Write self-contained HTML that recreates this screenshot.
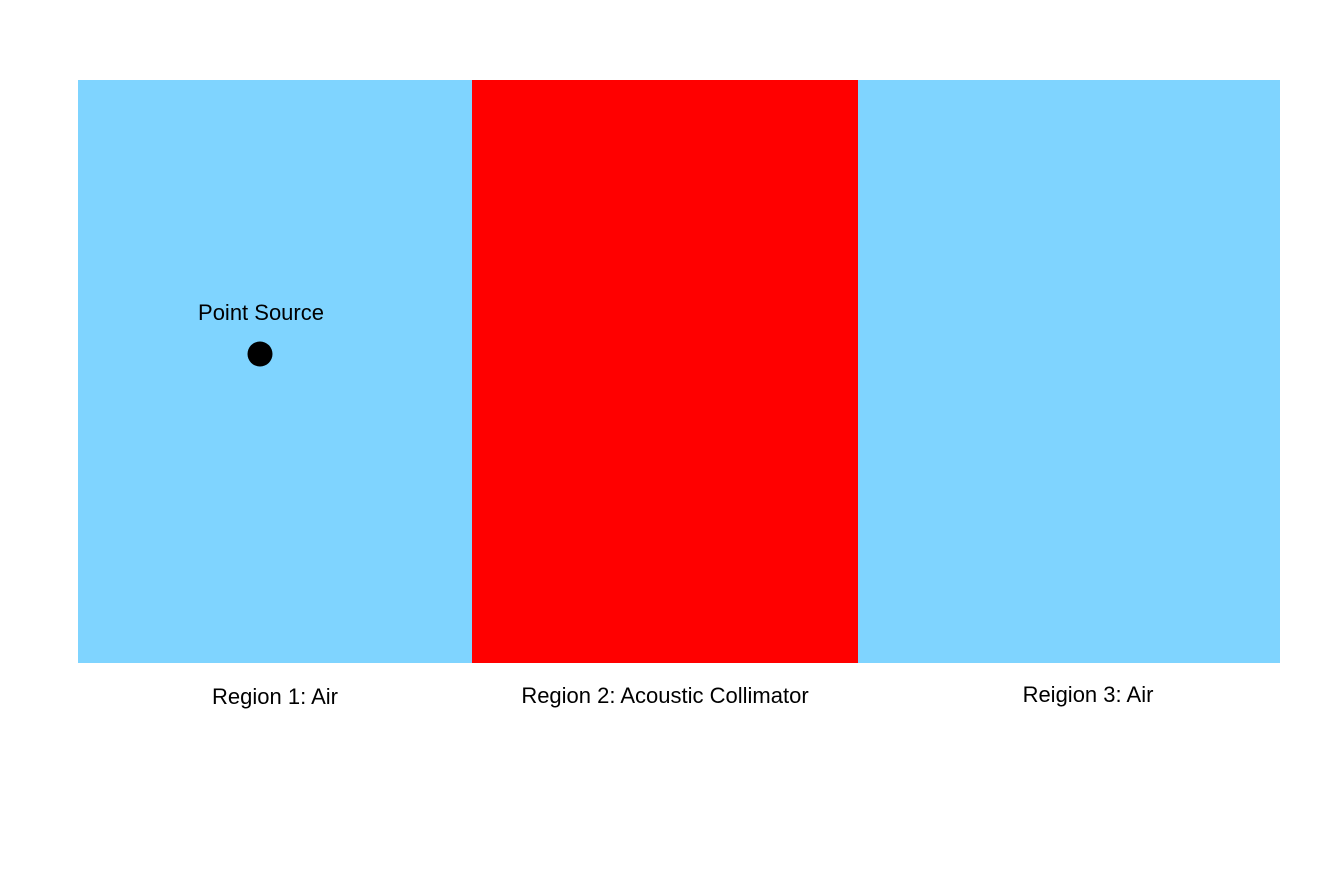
<!DOCTYPE html>
<html>
<head>
<meta charset="utf-8">
<style>
  html, body { margin: 0; padding: 0; background: #fff; }
  body { width: 1336px; height: 880px; position: relative; overflow: hidden; font-family: "Liberation Sans", "DejaVu Sans", sans-serif; }
  svg { position: absolute; left: 0; top: 0; }
  text { font-family: "Liberation Sans", "DejaVu Sans", sans-serif; font-size: 22px; fill: #000; }
</style>
</head>
<body>
<svg id="chart" width="1336" height="880"></svg>
<script>
const regionNames = ["region-1-air", "region-2-acoustic-collimator", "region-3-air"];
const regionBounds = [78, 472, 858, 1280];
const regionColors = ["#7fd4ff", "#ff0000", "#7fd4ff"];
const regionLabels = ["Region 1: Air", "Region 2: Acoustic Collimator", "Reigion 3: Air"];
const labelY = [704, 703, 702];
const sourcePoint = [260, 354];

const NS = "http://www.w3.org/2000/svg";
const svgEl = document.getElementById("chart");
const plotTop = 80, plotBottom = 663;

for (let i = 0; i < regionNames.length; i++) {
  const r = document.createElementNS(NS, "rect");
  r.setAttribute("x", regionBounds[i]);
  r.setAttribute("y", plotTop);
  r.setAttribute("width", regionBounds[i + 1] - regionBounds[i]);
  r.setAttribute("height", plotBottom - plotTop);
  r.setAttribute("fill", regionColors[i]);
  
  
  svgEl.appendChild(r);

  const t = document.createElementNS(NS, "text");
  const cx = i === 0 ? 275 : (i === 2 ? 1088 : (regionBounds[i] + regionBounds[i + 1]) / 2);
  t.setAttribute("x", cx);
  t.setAttribute("y", labelY[i]);
  t.setAttribute("text-anchor", "middle");
  t.textContent = regionLabels[i];
  
  
  svgEl.appendChild(t);
}

const c = document.createElementNS(NS, "circle");
c.setAttribute("cx", sourcePoint[0]);
c.setAttribute("cy", sourcePoint[1]);
c.setAttribute("r", 12.5);
c.setAttribute("fill", "#000");


svgEl.appendChild(c);

const pt = document.createElementNS(NS, "text");
pt.setAttribute("x", sourcePoint[0] + 1);
pt.setAttribute("y", 320);
pt.setAttribute("text-anchor", "middle");
pt.textContent = "Point Source";


svgEl.appendChild(pt);
</script>
</body>
</html>
